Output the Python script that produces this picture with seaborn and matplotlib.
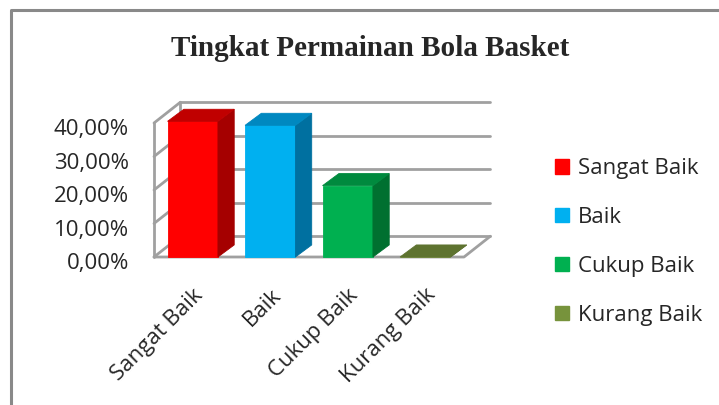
import numpy as np
import pandas as pd
import matplotlib
matplotlib.use("Agg")
import matplotlib.pyplot as plt
from matplotlib.patches import Polygon
from matplotlib.ticker import FuncFormatter
from matplotlib.transforms import ScaledTranslation
import seaborn as sns

# data
categories = ["Sangat Baik", "Baik", "Cukup Baik", "Kurang Baik"]
values = [0.405, 0.393, 0.213, 0.0]
front_colors = ["#FF0000", "#00B0F0", "#00B050", "#77933C"]
side_colors = ["#A50000", "#0070A0", "#007030", "#4F6228"]
top_colors = ["#C00000", "#0088C0", "#008A3E", "#5E7330"]
y_ticks = [0.0, 0.1, 0.2, 0.3, 0.4]

df = pd.DataFrame({"kategori": categories, "nilai": values})

sns.set_style("white")
plt.rcParams["font.family"] = ["Open Sans", "DejaVu Sans"]

fig = plt.figure(figsize=(7.19, 4.05), dpi=100)
ax = fig.add_axes([154 / 719, 148 / 405, 310 / 719, 134 / 405])

sns.barplot(data=df, x="kategori", y="nilai", hue="kategori",
            palette=dict(zip(categories, front_colors)), width=0.65,
            saturation=1, legend=False, ax=ax, zorder=3)
ax.set_xlim(-0.5, 3.5)
ax.set_ylim(0, 0.4)

# depth of the floor/walls and of the bars (data units)
wall_dx, wall_dy = 0.34, 0.062
bar_dx, bar_dy = 0.21, 0.036
grid_col = "#A0A0A0"

# back wall gridlines, left wall and floor
for v in y_ticks:
    ax.plot([-0.5 + wall_dx, 3.5 + wall_dx], [v + wall_dy, v + wall_dy],
            color=grid_col, lw=2, clip_on=False, zorder=1)
    ax.plot([-0.5, -0.5 + wall_dx], [v, v + wall_dy],
            color=grid_col, lw=2, clip_on=False, zorder=1)
ax.plot([-0.5, -0.5], [0, 0.4], color=grid_col, lw=2, clip_on=False, zorder=1)
ax.plot([-0.5 + wall_dx] * 2, [wall_dy, 0.4 + wall_dy], color=grid_col, lw=2,
        clip_on=False, zorder=1)
ax.plot([-0.5, 3.5, 3.5 + wall_dx], [0, 0, wall_dy], color=grid_col, lw=2,
        clip_on=False, zorder=1)

# 3D side and top faces built from the seaborn bars
for bar, fc, sc, tc in zip(ax.patches, front_colors, side_colors, top_colors):
    bar.set_clip_on(False)
    bar.set_edgecolor(fc)
    bar.set_linewidth(0.6)
    x0, w, h = bar.get_x(), bar.get_width(), bar.get_height()
    x1 = x0 + w
    side = [(x1, 0), (x1 + bar_dx, bar_dy), (x1 + bar_dx, h + bar_dy), (x1, h)]
    top = [(x0, h), (x0 + bar_dx, h + bar_dy), (x1 + bar_dx, h + bar_dy), (x1, h)]
    ax.add_patch(Polygon(side, closed=True, facecolor=sc, edgecolor=sc, lw=0.6,
                         zorder=4, clip_on=False))
    ax.add_patch(Polygon(top, closed=True, facecolor=tc, edgecolor=tc, lw=0.6,
                         zorder=4, clip_on=False))

for s in ax.spines.values():
    s.set_visible(False)
ax.set_xlabel("")
ax.set_ylabel("")
ax.set_yticks(y_ticks)
ax.yaxis.set_major_formatter(FuncFormatter(lambda v, p: f"{v * 100:.2f}%".replace(".", ",")))
ax.tick_params(axis="y", length=0, pad=18, labelsize=16)
ax.tick_params(axis="x", length=0, pad=20, labelsize=16)
ax.set_xticks(range(len(categories)))
ax.set_xticklabels(categories, rotation=45, ha="right", rotation_mode="anchor")
for lab in ax.get_yticklabels():
    lab.set_transform(lab.get_transform() + ScaledTranslation(0, -3 / 72, fig.dpi_scale_trans))

# legend
handles = [plt.Rectangle((0, 0), 1, 1, color=c) for c in front_colors]
fig.legend(handles, categories, loc="center left", bbox_to_anchor=(535 / 719, 1 - 242 / 405),
           frameon=False, fontsize=16, handlelength=0.62, handleheight=0.62,
           handletextpad=0.4, labelspacing=1.25)

fig.text(370 / 719, 1 - 48 / 405, "Tingkat Permainan Bola Basket", ha="center", va="center",
         fontsize=21, fontweight="bold", family="Liberation Serif")

# chart area border (left and top edges visible)
fig.add_artist(plt.Line2D([11 / 719, 11 / 719, 1.0], [0, 1 - 10 / 405, 1 - 10 / 405],
                          color="#898989", lw=2.2, transform=fig.transFigure))

fig.savefig("out.png", dpi=100)
